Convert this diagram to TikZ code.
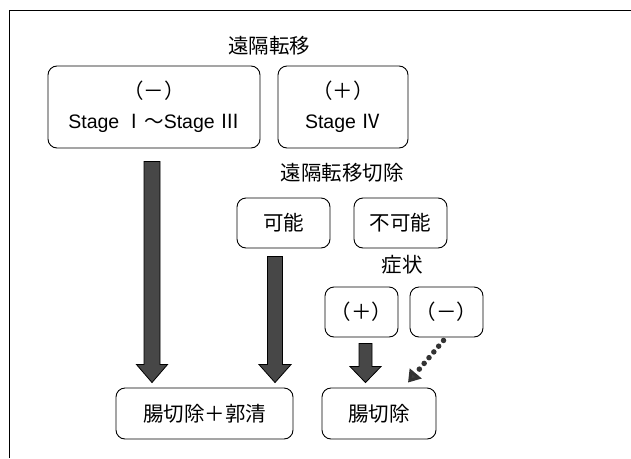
\documentclass[tikz,border=0pt]{standalone}
\usepackage{fontspec}
\setmainfont{Liberation Sans}
\newfontfamily\jp{Noto Sans CJK JP}
\usetikzlibrary{calc,arrows.meta}
\tikzset{
  rbox/.style={draw=black, line width=0.9pt, rounded corners=9pt, align=center, inner sep=0pt, font=\fontsize{19.5}{25}\selectfont},
  lbl/.style={inner sep=0pt, font=\jp\fontsize{20.5}{22}\selectfont},
  fatarrowstyle/.style={draw=black, line width=0.8pt, fill=black!72, line join=miter},
}
\newcommand\fatarrow[5]{%
  \draw[fatarrowstyle] let \p1=(#1), \p2=(#2) in
    (\x1-#3pt,\y1) -- (\x1+#3pt,\y1) -- (\x1+#3pt,\y2+#5pt) -- (\x1+#4pt,\y2+#5pt)
    -- (\x1,\y2) -- (\x1-#4pt,\y2+#5pt) -- (\x1-#3pt,\y2+#5pt) -- cycle;}
\begin{document}
\begin{tikzpicture}[x=1pt,y=-1pt]
\useasboundingbox (0,0) rectangle (631,458);
\draw[line width=0.8pt] (9,458) -- (9,10) -- (631,10);

\node[lbl] (tm) at (269,46) {遠隔転移};
\node[rbox, minimum width=212pt, minimum height=82pt] (b1) at (154,107)
  {{\jp\fontsize{20.5}{22}\selectfont（－）}\\[5pt] Stage {\jp Ⅰ～}Stage {\jp Ⅲ}};
\node[rbox, minimum width=130pt, minimum height=82pt] (b2) at (343,107)
  {{\jp\fontsize{20.5}{22}\selectfont（＋）}\\[5pt] Stage {\jp Ⅳ}};

\node[lbl] (rs) at (342,173) {遠隔転移切除};
\node[rbox, minimum width=93pt, minimum height=50pt, font=\jp\fontsize{20.5}{22}\selectfont] (ok) at (283.5,223) {可能};
\node[rbox, minimum width=93pt, minimum height=50pt, font=\jp\fontsize{20.5}{22}\selectfont] (ng) at (400.5,223) {不可能};

\node[lbl] (sy) at (402,265) {症状};
\node[rbox, minimum width=73pt, minimum height=50pt, font=\jp\fontsize{20.5}{22}\selectfont] (pos) at (361.5,312) {（＋）};
\node[rbox, minimum width=73pt, minimum height=50pt, font=\jp\fontsize{20.5}{22}\selectfont] (neg) at (446.5,312) {（－）};

\node[rbox, minimum width=177pt, minimum height=51pt, font=\jp\fontsize{20.5}{22}\selectfont] (r1) at (204.5,413.5) {腸切除＋郭清};
\node[rbox, minimum width=114pt, minimum height=51pt, font=\jp\fontsize{20.5}{22}\selectfont] (r2) at (379,413.5) {腸切除};

\coordinate (a1s) at ($(b1.south)+(-2,13)$);
\coordinate (a1e) at ($(r1.north)+(0,-5)$);
\fatarrow{a1s}{a1e}{8}{15.5}{18}
\coordinate (a2s) at ($(ok.south)+(-8.5,8)$);
\coordinate (a2e) at ($(r1.north)+(0,-5)$);
\fatarrow{a2s}{a2e}{7.5}{16}{18}
\coordinate (a3s) at ($(pos.south)+(4,6)$);
\coordinate (a3e) at ($(r2.north)+(0,-5)$);
\fatarrow{a3s}{a3e}{6.5}{15.5}{16}

\coordinate (d1) at ($(neg.south)+(-3,3)$);
\coordinate (d2) at ($(r2.north)+(29,-5)$);
\draw[line width=5.5pt, black!80, line cap=round, dash pattern=on 0pt off 7.5pt,
  -{Triangle[length=12pt,width=15pt,fill=black!75]}] (d1) -- (d2);
\end{tikzpicture}
\end{document}
